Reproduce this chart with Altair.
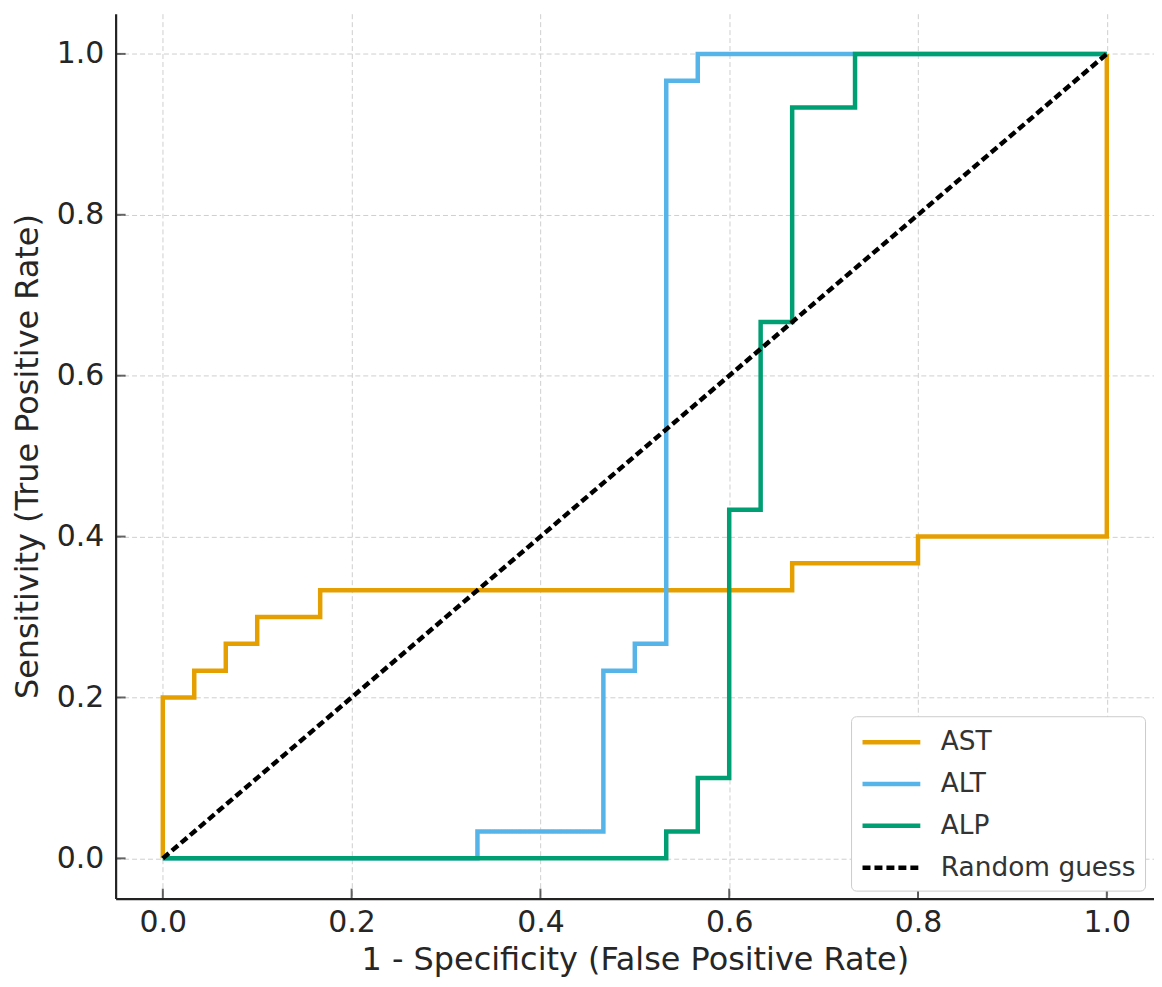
import altair as alt
import pandas as pd

series_names = ["AST", "ALT", "ALP", "Random guess"]
series_colors = ["#E69F00", "#56B4E9", "#009E73", "#000000"]

ast_fpr = [0, 0, 0.0333, 0.0333, 0.0667, 0.0667, 0.1, 0.1, 0.1667, 0.1667, 0.6667, 0.6667, 0.8, 0.8, 1, 1]
ast_tpr = [0, 0.2, 0.2, 0.2333, 0.2333, 0.2667, 0.2667, 0.3, 0.3, 0.3333, 0.3333, 0.3667, 0.3667, 0.4, 0.4, 1]

alt_fpr = [0, 0.3333, 0.3333, 0.4667, 0.4667, 0.5, 0.5, 0.5333, 0.5333, 0.5667, 0.5667, 1]
alt_tpr = [0, 0, 0.0333, 0.0333, 0.2333, 0.2333, 0.2667, 0.2667, 0.9667, 0.9667, 1, 1]

alp_fpr = [0, 0.5333, 0.5333, 0.5667, 0.5667, 0.6, 0.6, 0.6333, 0.6333, 0.6667, 0.6667, 0.7333, 0.7333, 1]
alp_tpr = [0, 0, 0.0333, 0.0333, 0.1, 0.1, 0.4333, 0.4333, 0.6667, 0.6667, 0.9333, 0.9333, 1, 1]

rand_fpr = [0, 1]
rand_tpr = [0, 1]

tick_values = [0.0, 0.2, 0.4, 0.6, 0.8, 1.0]

rows = []
for name, xs, ys in [("AST", ast_fpr, ast_tpr), ("ALT", alt_fpr, alt_tpr),
                     ("ALP", alp_fpr, alp_tpr), ("Random guess", rand_fpr, rand_tpr)]:
    for i, (a, b) in enumerate(zip(xs, ys)):
        rows.append({"series": name, "fpr": a, "tpr": b, "idx": i})
df = pd.DataFrame(rows)
ticks_df = pd.DataFrame({"v": tick_values})

W, H = 1042, 888
FONT = "DejaVu Sans"

xscale = alt.Scale(domain=[-0.05, 1.05], nice=False, zero=False)
yscale = alt.Scale(domain=[-0.05, 1.05], nice=False, zero=False)

xaxis = alt.Axis(values=tick_values, format=".1f", title="1 - Specificity (False Positive Rate)",
                 grid=True, gridDash=[5, 3], gridColor="#cfcfcf", gridWidth=1,
                 ticks=False, tickSize=0, labelPadding=9, titlePadding=7,
                 domainColor="#222222", domainWidth=2.2)
yaxis = alt.Axis(values=tick_values, format=".1f", title="Sensitivity (True Positive Rate)",
                 grid=True, gridDash=[5, 3], gridColor="#cfcfcf", gridWidth=1,
                 ticks=False, tickSize=0, labelPadding=12, titlePadding=12,
                 domainColor="#222222", domainWidth=2.2)

leg = alt.Legend(title=None, orient="none", legendX=738, legendY=705)
color = alt.Color("series:N", scale=alt.Scale(domain=series_names, range=series_colors), legend=leg)
dash = alt.StrokeDash("series:N", scale=alt.Scale(domain=series_names,
                      range=[[1, 0], [1, 0], [1, 0], [8, 4]]), legend=leg)
width_enc = alt.StrokeWidth("series:N", scale=alt.Scale(domain=series_names, range=[4.5, 4.5, 4.5, 2]),
                            legend=leg)

layers = []
for name in series_names:
    layers.append(
        alt.Chart(df).transform_filter(alt.datum.series == name)
        .mark_line(interpolate="linear", strokeCap="butt", strokeJoin="miter")
        .encode(
            x=alt.X("fpr:Q", scale=xscale, axis=xaxis),
            y=alt.Y("tpr:Q", scale=yscale, axis=yaxis),
            order=alt.Order("idx:Q"),
            color=color,
            strokeDash=dash,
            strokeWidth=width_enc,
        )
    )

xticks = alt.Chart(ticks_df).mark_tick(color="#222222", thickness=2, size=10, orient="vertical").encode(
    x=alt.X("v:Q", scale=xscale, axis=xaxis), y=alt.value(H - 5))
yticks = alt.Chart(ticks_df).mark_tick(color="#222222", thickness=2, size=10, orient="horizontal").encode(
    y=alt.Y("v:Q", scale=yscale, axis=yaxis), x=alt.value(5))

chart = alt.layer(*layers, xticks, yticks).properties(
    width=W, height=H,
    autosize=alt.AutoSizeParams(type="none"),
    padding={"left": 108, "top": 4, "right": 0, "bottom": 80},
).configure_view(stroke=None).configure_axis(
    labelFont=FONT, titleFont=FONT, labelFontSize=30, titleFontSize=32,
    labelColor="#262626", titleColor="#262626", titleFontWeight="normal",
).configure_legend(
    labelFont=FONT, labelFontSize=26.5, labelColor="#333333", labelLimit=0,
    symbolType="M-1,0H3", symbolSize=841, symbolStrokeWidth=4.5,
    fillColor="white", strokeColor="#cccccc", cornerRadius=5, padding=9,
    rowPadding=11, labelOffset=47,
)

chart.save("out.html", embed_options={"renderer": "svg", "actions": False})
